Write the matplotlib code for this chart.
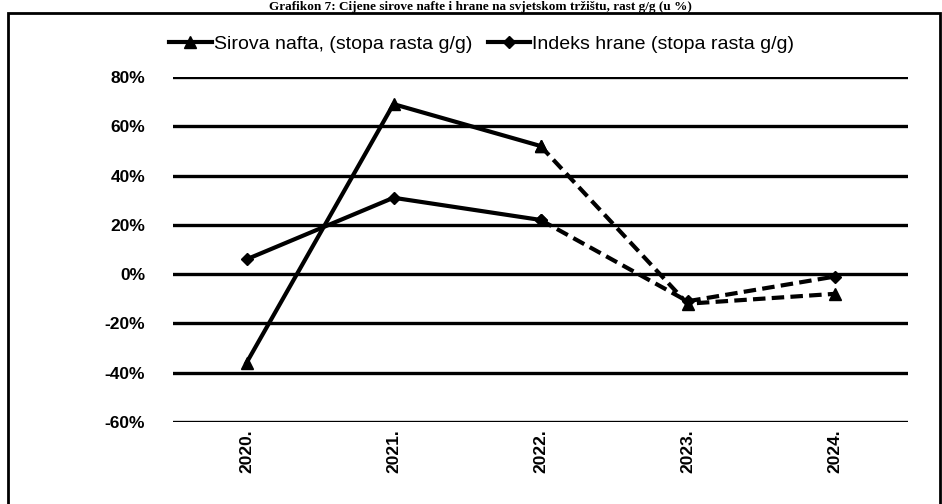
import numpy as np
import matplotlib.pyplot as plt
from matplotlib.patches import Rectangle

# podaci (ocitano s grafikona)
godine = ["2020.", "2021.", "2022.", "2023.", "2024."]
nafta = [-36, 69, 52, -12, -8]     # Sirova nafta, stopa rasta g/g (%)
hrana = [6, 31, 22, -11, -1]       # Indeks hrane, stopa rasta g/g (%)
yticks = [-60, -40, -20, 0, 20, 40, 60, 80]

plt.rcParams['font.family'] = ['Liberation Sans', 'DejaVu Sans']

fig = plt.figure(figsize=(9.42, 5.04), dpi=100)
fig.patch.set_facecolor('white')

# okvir oko grafikona
fig.patches.append(Rectangle((8 / 942, -0.05), 932 / 942, 1 - 13 / 504 + 0.05,
                             transform=fig.transFigure, fill=False,
                             edgecolor='black', linewidth=2.0))

fig.text(0.51, 0.999, "Grafikon 7: Cijene sirove nafte i hrane na svjetskom tržištu, rast g/g (u %)",
         ha='center', va='top', fontsize=9.5, fontweight='bold',
         family=['Liberation Serif', 'DejaVu Serif'])

ax = fig.add_axes([173 / 942, 1 - 422 / 504, 735 / 942, 345 / 504])
x = np.arange(len(godine))

ax.set_ylim(-60, 80)
ax.set_xlim(-0.5, len(godine) - 0.5)
ax.set_yticks(yticks)
ax.set_yticklabels([f"{v}%" for v in yticks], fontsize=12.5, fontweight='bold')
ax.set_xticks(x)
ax.set_xticklabels(godine, rotation=90, fontsize=12.5, fontweight='bold')
ax.tick_params(axis='y', length=0, pad=20)
ax.tick_params(axis='x', length=0, pad=5)
ax.grid(axis='y', color='black', linewidth=2.4)
ax.set_axisbelow(True)
for s in ax.spines.values():
    s.set_visible(False)

# pune linije do 2022., isprekidane nakon
kw = dict(color='black', linewidth=3)
ax.plot(x[:3], nafta[:3], marker='^', markersize=8, **kw,
        label="Sirova nafta, (stopa rasta g/g)")
ax.plot(x[2:], nafta[2:], marker='^', markersize=8, linestyle=(0, (3, 1.5)), **kw)
ax.plot(x[:3], hrana[:3], marker='D', markersize=6, **kw,
        label="Indeks hrane (stopa rasta g/g)")
ax.plot(x[2:], hrana[2:], marker='D', markersize=6, linestyle=(0, (3, 1.5)), **kw)

ax.legend(loc='lower center', bbox_to_anchor=(0.42, 1.02), ncol=2, frameon=False,
          handlelength=2.2, handletextpad=0.1, columnspacing=0.8,
          prop={'size': 14})

fig.savefig("out.png", dpi=100)
